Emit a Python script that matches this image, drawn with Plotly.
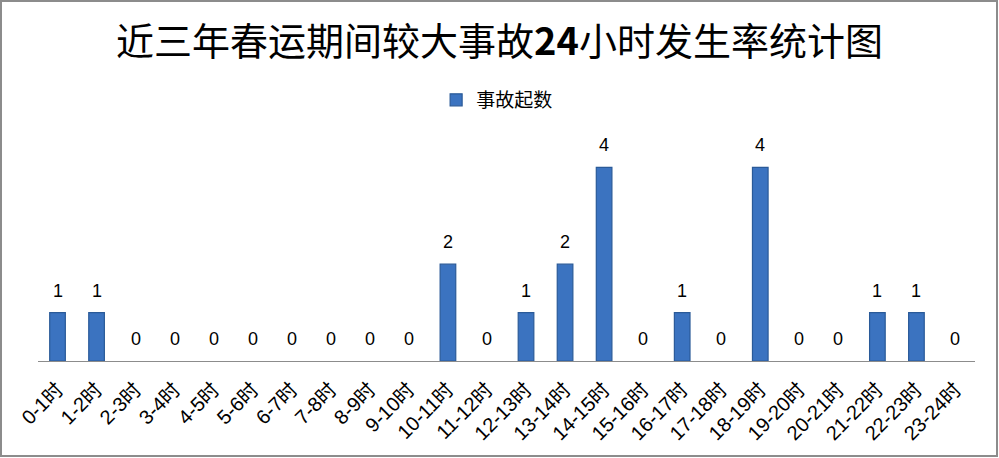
import plotly.graph_objects as go

categories = ["0-1时","1-2时","2-3时","3-4时","4-5时","5-6时","6-7时","7-8时","8-9时","9-10时",
              "10-11时","11-12时","12-13时","13-14时","14-15时","15-16时","16-17时","17-18时",
              "18-19时","19-20时","20-21时","21-22时","22-23时","23-24时"]
values = [1,1,0,0,0,0,0,0,0,0,2,0,1,2,4,0,1,0,4,0,0,1,1,0]
series_name = "事故起数"
title = "近三年春运期间较大事故<b>24</b>小时发生率统计图"

W, H = 999, 458
L, R, T, B = 38, 24, 119, 97
pw, ph = W - L - R, H - T - B

def px_x(p):
    return (p - L) / pw

def px_y(p):
    return (H - B - p) / ph

FONT = "Noto Sans CJK SC"
LATIN = "Liberation Sans, Noto Sans CJK SC"

fig = go.Figure()
fig.add_trace(go.Bar(
    x=categories, y=values, name=series_name,
    marker=dict(color="#3B73C0",
                line=dict(color="#2A5A98", width=[1.2 if v > 0 else 0 for v in values])),
    width=0.4,
    cliponaxis=False,
))

for c, v in zip(categories, values):
    fig.add_annotation(x=c, y=v, xref="x", yref="y", text=str(v), showarrow=False,
                       yanchor="bottom", yshift=10,
                       font=dict(size=18, color="#000000", family=LATIN))

fig.update_layout(
    width=W, height=H,
    margin=dict(l=L, r=R, t=T, b=B),
    paper_bgcolor="white", plot_bgcolor="white",
    title=dict(text=title, x=0.5, xref="container", xanchor="center", y=(H - 42) / H, yanchor="middle",
               font=dict(size=38, color="#000000", family=FONT)),
    showlegend=True,
    legend=dict(orientation="h", x=0.49, xanchor="center", xref="paper", y=px_y(100), yanchor="middle",
                font=dict(size=19, color="#000000", family=FONT), bgcolor="rgba(0,0,0,0)",
                itemwidth=30),
    xaxis=dict(showline=True, linecolor="#8C8C8C", linewidth=1, ticks="", tickangle=-45,
               tickfont=dict(size=20, color="#000000", family=LATIN), showgrid=False,
               ticklabelstandoff=8, range=[-0.5, 23.5]),
    yaxis=dict(range=[0, 5], visible=False, showgrid=False, zeroline=False),
)

fig.add_shape(type="rect", xref="paper", yref="paper",
              x0=px_x(1), x1=px_x(997), y0=px_y(456), y1=px_y(1),
              line=dict(color="#8C8C8C", width=2), fillcolor="rgba(0,0,0,0)", layer="above")

fig.write_html("out.html", post_script="document.body.style.margin='0';",
               config={"displayModeBar": False})
